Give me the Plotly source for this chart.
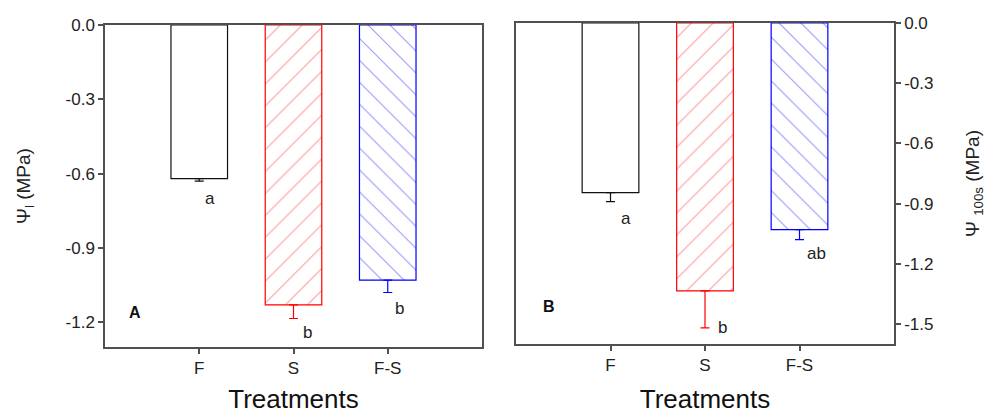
import plotly.graph_objects as go

# ---- data ----
categories = ["F", "S", "F-S"]
psi_leaf = [-0.62, -1.13, -1.03]
psi_leaf_err = [0.01, 0.055, 0.05]
psi_100s = [-0.845, -1.335, -1.03]
psi_100s_err = [0.045, 0.185, 0.05]
letters_leaf = ["a", "b", "b"]
letters_100s = ["a", "b", "ab"]
yticks_leaf = [0.0, -0.3, -0.6, -0.9, -1.2]
yticks_100s = [0.0, -0.3, -0.6, -0.9, -1.2, -1.5]

# ---- styles ----
colors = ["#111111", "#ff0000", "#0000ff"]
hatch_colors = ["#111111", "#ff3333", "#3333ff"]
shapes = ["", "/", "\\"]
FONT = "Liberation Sans, Arial, sans-serif"
W, H = 989, 414
AXCOL = "#505050"

fig = go.Figure()

def add_bars(vals, errs, xa, ya):
    for i, (c, v, e) in enumerate(zip(categories, vals, errs)):
        fig.add_trace(go.Bar(
            x=[c], y=[v], width=0.6, xaxis=xa, yaxis=ya,
            marker=dict(color="white",
                        line=dict(color=colors[i], width=1.2),
                        pattern=dict(shape=shapes[i], fgcolor=hatch_colors[i],
                                     bgcolor="white", size=15.5, solidity=0.07)),
            error_y=dict(type="data", symmetric=False, array=[0], arrayminus=[e],
                         color=colors[i], thickness=1.2, width=4.5),
            showlegend=False, hoverinfo="skip"))

add_bars(psi_leaf, psi_leaf_err, "x", "y")
add_bars(psi_100s, psi_100s_err, "x2", "y2")

# domains from pixel geometry
A_x = (105, 482); A_y = (25, 347)
B_x = (516, 894); B_y = (23, 344)
def xd(p): return [p[0] / W, p[1] / W]
def yd(p): return [(H - p[1]) / H, (H - p[0]) / H]
def dx(px, p): return (px - p[0]) / (p[1] - p[0])
def dy(py, p): return (p[1] - py) / (p[1] - p[0])

tickfont = dict(family=FONT, size=17, color="#222")
xtitle = dict(text="Treatments", font=dict(family=FONT, size=26, color="#111"), standoff=26)
common_x = dict(type="category", range=[-1, 3], showline=True, mirror=True,
                linecolor=AXCOL, linewidth=1.5, ticks="outside", ticklen=5,
                tickcolor=AXCOL, tickwidth=1.5, tickfont=tickfont, showgrid=False,
                zeroline=False, categoryorder="array", categoryarray=categories,
                automargin=True, title=xtitle)
common_y = dict(showline=True, mirror=True, linecolor=AXCOL, linewidth=1.5,
                ticks="outside", ticklen=5, tickcolor=AXCOL, tickwidth=1.5,
                tickfont=tickfont, showgrid=False, zeroline=False, automargin=True)

fig.update_layout(
    width=W, height=H, margin=dict(l=0, r=0, t=0, b=0, autoexpand=False),
    paper_bgcolor="white", plot_bgcolor="white", barmode="overlay",
    font=dict(family=FONT, color="#222"),
    xaxis=dict(domain=xd(A_x), anchor="y", **common_x),
    yaxis=dict(domain=yd(A_y), anchor="x", range=[-1.3, 0], tickvals=yticks_leaf,
               ticktext=[f"{v:.1f}" for v in yticks_leaf],
               title=dict(text="Ψ<sub>l</sub> (MPa)", standoff=30,
                          font=dict(family=FONT, size=19, color="#222")),
               **common_y),
    xaxis2=dict(domain=xd(B_x), anchor="y2", **common_x),
    yaxis2=dict(domain=yd(B_y), anchor="x2", side="right", range=[-1.6, 0],
                tickvals=yticks_100s, ticktext=[f"{v:.1f}" for v in yticks_100s],
                title=dict(text="Ψ <sub>100s</sub> (MPa)", standoff=33,
                           font=dict(family=FONT, size=19, color="#222")),
                **common_y),
)

ann = []
# significance letters
off_leaf = [(11, 17), (14, 14), (12, 16)]
off_100s = [(15, 17), (17, 0), (17, 14)]
for i, (v, e, t) in enumerate(zip(psi_leaf, psi_leaf_err, letters_leaf)):
    ann.append(dict(x=i, y=v - e, xref="x", yref="y", text=t, showarrow=False,
                    xshift=off_leaf[i][0], yshift=-off_leaf[i][1],
                    font=dict(family=FONT, size=17, color="#222")))
for i, (v, e, t) in enumerate(zip(psi_100s, psi_100s_err, letters_100s)):
    ann.append(dict(x=i, y=v - e, xref="x2", yref="y2", text=t, showarrow=False,
                    xshift=off_100s[i][0], yshift=-off_100s[i][1],
                    font=dict(family=FONT, size=17, color="#222")))
# panel labels
ann.append(dict(x=dx(127, A_x), y=dy(323, A_y), xref="x domain", yref="y domain",
                text="<b>A</b>", showarrow=False, font=dict(family=FONT, size=16, color="#111")))
ann.append(dict(x=dx(541, B_x), y=dy(317, B_y), xref="x2 domain", yref="y2 domain",
                text="<b>B</b>", showarrow=False, font=dict(family=FONT, size=16, color="#111")))
fig.update_layout(annotations=ann)

fig.write_html("out.html", config={"displayModeBar": False},
               post_script="document.body.style.margin='0';")
